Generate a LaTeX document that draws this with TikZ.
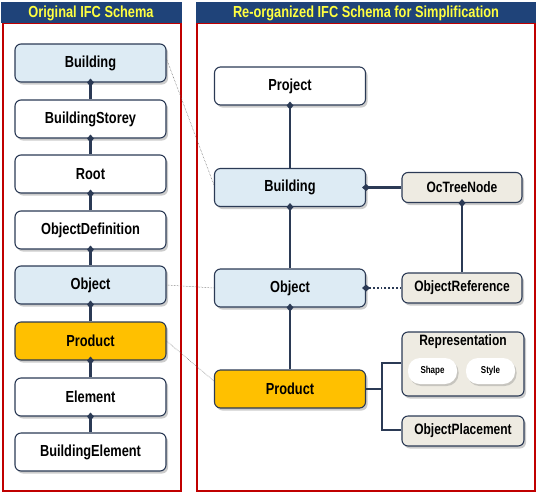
\documentclass[tikz,border=0pt]{standalone}
\usepackage{fontspec}
\setmainfont{Liberation Sans}[FakeStretch=0.8]
\usetikzlibrary{shadows,arrows.meta}
\definecolor{navy}{HTML}{2B3A55}
\definecolor{titlebg}{HTML}{1F4379}
\definecolor{titlefg}{HTML}{FFFF40}
\definecolor{framered}{HTML}{C00000}
\definecolor{lightblue}{HTML}{DDEBF4}
\definecolor{gold}{HTML}{FFC000}
\definecolor{beige}{HTML}{EEEBE2}
\tikzset{
  box/.style={draw=navy, line width=1.1pt, rounded corners=6pt, fill=white,
    minimum width=151pt, minimum height=38pt, inner sep=0pt,
    font=\fontsize{16}{16}\selectfont\bfseries,
    drop shadow={shadow xshift=2pt, shadow yshift=-2.5pt, opacity=0.5, fill=gray!80}},
  blue/.style={fill=lightblue},
  prod/.style={fill=gold},
  sbox/.style={box, fill=beige, minimum width=120pt, minimum height=30pt,
    font=\fontsize{15}{15}\selectfont\bfseries},
  pill/.style={draw=none, fill=white, rounded corners=12pt, minimum width=49pt,
    minimum height=26pt, inner sep=0pt, font=\fontsize{10}{10}\selectfont\bfseries,
    drop shadow={shadow xshift=1.5pt, shadow yshift=-2pt, opacity=0.35, fill=gray}},
  conn/.style={draw=navy, line width=2.3pt, -{Diamond[length=8pt,width=7pt]}, shorten >=-4pt},
  dconn/.style={draw=navy, line width=1.8pt, dotted, -{Diamond[length=8pt,width=7pt]}, shorten >=-4pt},
  link/.style={draw=gray!70!black, line width=0.5pt, densely dotted},
  titlebar/.style={fill=titlebg, draw=none},
  ttext/.style={text=titlefg, font=\fontsize{16}{16}\selectfont\bfseries},
  frame/.style={draw=framered, line width=1.2pt},
}
\begin{document}
\begin{tikzpicture}[x=1pt,y=-1pt]
\useasboundingbox (0,0) rectangle (537,493);
% panels
\draw[frame] (3,23) rectangle (181,491);
\fill[titlebar] (1,2) rectangle (182,23);
\node[ttext] (t1) at (91,13) {Original IFC Schema};
\draw[frame] (197,23) rectangle (535,491);
\fill[titlebar] (196,2) rectangle (536,23);
\node[ttext] (t2) at (366,13) {Re-organized IFC Schema for Simplification};
% left chain
\node[box,blue] (lb) at (90.5,63) {Building};
\node[box] (ls) at (90.5,119) {BuildingStorey};
\node[box] (lr) at (90.5,174) {Root};
\node[box] (lod) at (90.5,230) {ObjectDefinition};
\node[box,blue] (lo) at (90.5,285) {Object};
\node[box,prod] (lp) at (90.5,341) {Product};
\node[box] (le) at (90.5,397) {Element};
\node[box] (lbe) at (90.5,452) {BuildingElement};
\draw[conn] (ls.north) -- (lb.south);
\draw[conn] (lr.north) -- (ls.south);
\draw[conn] (lod.north) -- (lr.south);
\draw[conn] (lo.north) -- (lod.south);
\draw[conn] (lp.north) -- (lo.south);
\draw[conn] (le.north) -- (lp.south);
\draw[conn] (lbe.north) -- (le.south);
% right
\node[box] (rpj) at (290,86) {Project};
\node[box,blue] (rb) at (290,187.5) {Building};
\node[box,blue] (ro) at (290,288) {Object};
\node[box,prod] (rp) at (290,389) {Product};
\node[sbox] (oct) at (462,187.5) {OcTreeNode};
\node[sbox] (oref) at (462,288) {ObjectReference};
\node[sbox, minimum width=122pt, minimum height=64pt] (rep) at (463,364) {};
\node[font=\fontsize{15}{15}\selectfont\bfseries] (replbl) at (463,342) {Representation};
\node[pill] (shape) at (432.5,371) {Shape};
\node[pill] (style) at (490.5,371) {Style};
\node[sbox, minimum width=122pt] (opl) at (463,431) {ObjectPlacement};
\draw[conn] (rb.north) -- (rpj.south);
\draw[conn] (ro.north) -- (rb.south);
\draw[conn] (rp.north) -- (ro.south);
\draw[conn] (oct.west) -- (rb.east);
\draw[conn] (oref.north) -- (oct.south);
\draw[dconn] (oref.west) -- (ro.east);
\coordinate (fork) at (382,389);
\draw[navy, line width=1.3pt] (rp.east) -- (fork);
\draw[navy, line width=1.3pt] (rep.west |- 0,363) -| (fork) |- (opl.west |- 0,430);
% cross links
\draw[link] (lb.east |- 0,59) -- (rb.west |- 0,185);
\draw[link] (lo.east) -- (ro.west);
\draw[link] (lp.east) -- (rp.west |- 0,381);
\end{tikzpicture}
\end{document}
